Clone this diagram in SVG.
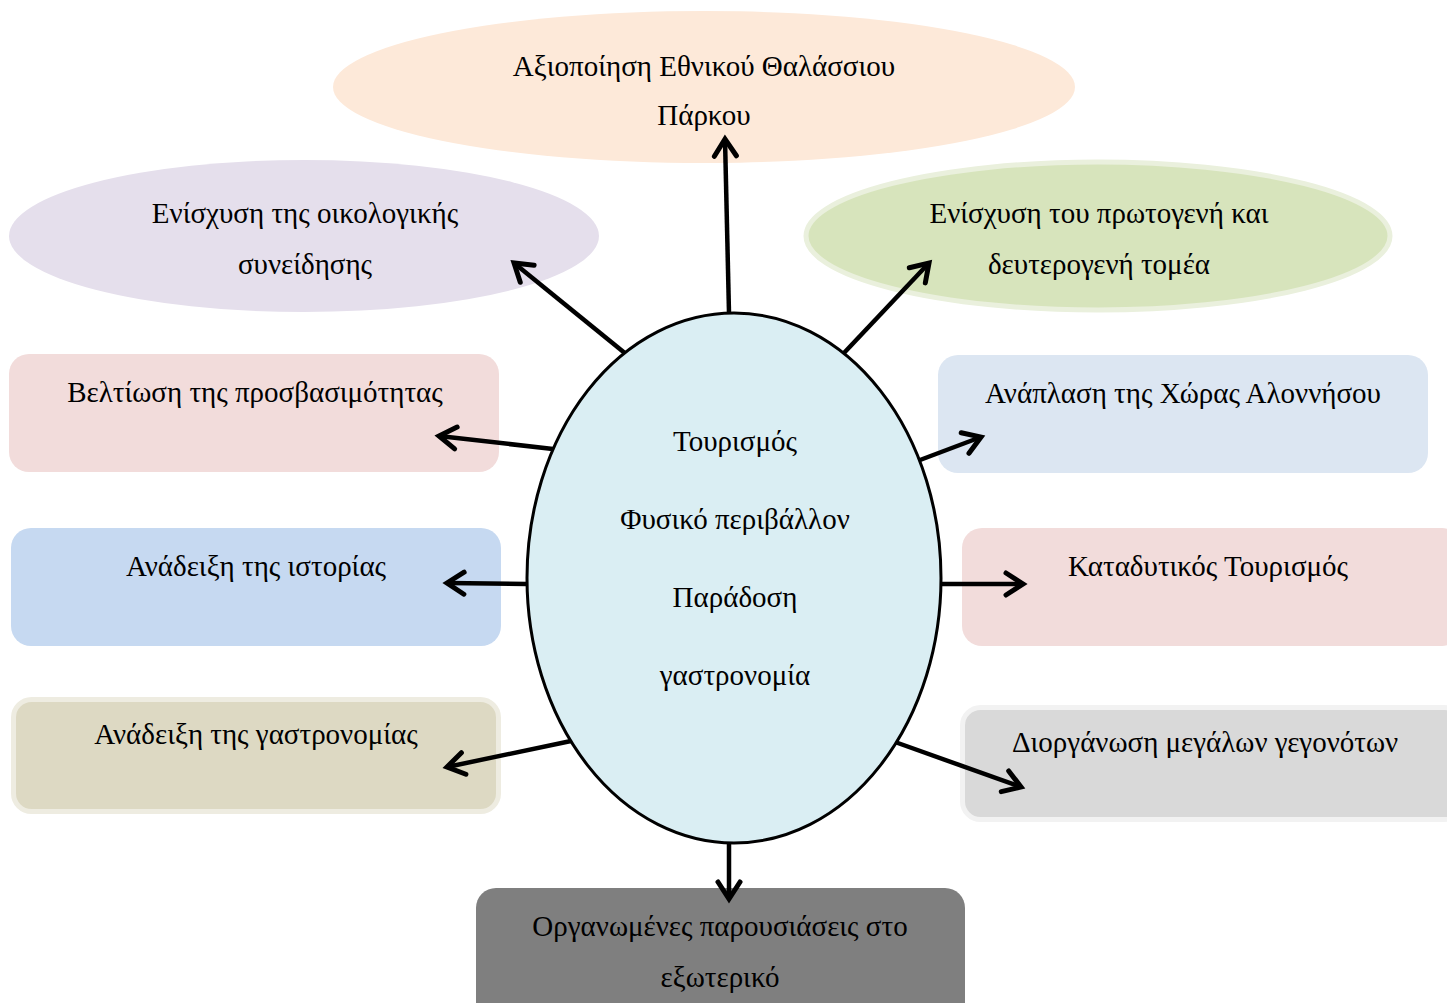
<svg xmlns="http://www.w3.org/2000/svg" width="1447" height="1003" viewBox="0 0 1447 1003">
<style>
text{font-family:"Liberation Serif","Times New Roman",serif;font-size:29px;fill:#000;text-anchor:middle}
.con line{stroke:#000;stroke-width:4.5;fill:none;marker-end:url(#ah)}
</style>
<defs>
<marker id="ah" markerUnits="userSpaceOnUse" viewBox="0 0 24 24" markerWidth="24" markerHeight="24" refX="20" refY="12" orient="auto" overflow="visible">
<path d="M3,1 L20,12 L3,23" fill="none" stroke="#000" stroke-width="5" stroke-linecap="round" stroke-linejoin="miter"/>
</marker>
</defs>
<rect width="1447" height="1003" fill="#fff"/>
<g id="n-top"><ellipse cx="704" cy="87" rx="371" ry="76" fill="#FDE9D9"/><text x="704" y="76">Αξιοποίηση Εθνικού Θαλάσσιου</text><text x="704" y="125">Πάρκου</text></g>
<g id="n-eco"><ellipse cx="304" cy="236" rx="295" ry="76" fill="#E5DFEC"/><text x="305" y="223">Ενίσχυση της οικολογικής</text><text x="305" y="274">συνείδησης</text></g>
<g id="n-sector"><ellipse cx="1098" cy="236" rx="292" ry="74" fill="#D7E4BC" stroke="#EAF0DD" stroke-width="5"/><text x="1099" y="223">Ενίσχυση του πρωτογενή και</text><text x="1099" y="274">δευτερογενή τομέα</text></g>
<g id="n-access"><rect x="9" y="354" width="490" height="118" rx="20" fill="#F2DCDB"/><text x="255" y="402">Βελτίωση της προσβασιμότητας</text></g>
<g id="n-history"><rect x="11" y="528" width="490" height="118" rx="20" fill="#C6D9F1"/><text x="256" y="576">Ανάδειξη της ιστορίας</text></g>
<g id="n-gastro"><rect x="13.5" y="699.5" width="485" height="112" rx="18" fill="#DDD9C3" stroke="#EEECE1" stroke-width="5"/><text x="256" y="744">Ανάδειξη της γαστρονομίας</text></g>
<g id="n-chora"><rect x="938" y="355" width="490" height="118" rx="20" fill="#DCE6F2"/><text x="1183" y="403">Ανάπλαση της Χώρας Αλοννήσου</text></g>
<g id="n-diving"><rect x="962" y="528" width="500" height="118" rx="20" fill="#F2DCDB"/><text x="1208" y="576">Καταδυτικός Τουρισμός</text></g>
<g id="n-events"><rect x="962.5" y="707.5" width="500" height="112" rx="18" fill="#D9D9D9" stroke="#F2F2F2" stroke-width="5"/><text x="1205" y="752">Διοργάνωση μεγάλων γεγονότων</text></g>
<g id="n-abroad"><rect x="476" y="888" width="489" height="140" rx="20" fill="#7F7F7F"/><text x="720" y="936">Οργανωμένες παρουσιάσεις στο</text><text x="720" y="987">εξωτερικό</text></g>
<g class="con" id="connectors">
<line x1="729" y1="313" x2="725" y2="139"/>
<line x1="626" y1="354" x2="514" y2="263"/>
<line x1="843" y1="354" x2="929" y2="263"/>
<line x1="553" y1="449" x2="439" y2="436"/>
<line x1="527" y1="584" x2="447" y2="583"/>
<line x1="571" y1="741" x2="447" y2="767"/>
<line x1="920" y1="460" x2="981" y2="437"/>
<line x1="941" y1="584" x2="1023" y2="584"/>
<line x1="895" y1="742" x2="1021" y2="787"/>
<line x1="729" y1="843" x2="729" y2="899"/>
</g>
<g id="n-center"><ellipse cx="734" cy="578" rx="207" ry="265" fill="#DAEEF3" stroke="#000" stroke-width="3"/><text x="735" y="451">Τουρισμός</text><text x="735" y="529">Φυσικό περιβάλλον</text><text x="735" y="607">Παράδοση</text><text x="735" y="685">γαστρονομία</text></g>
</svg>
